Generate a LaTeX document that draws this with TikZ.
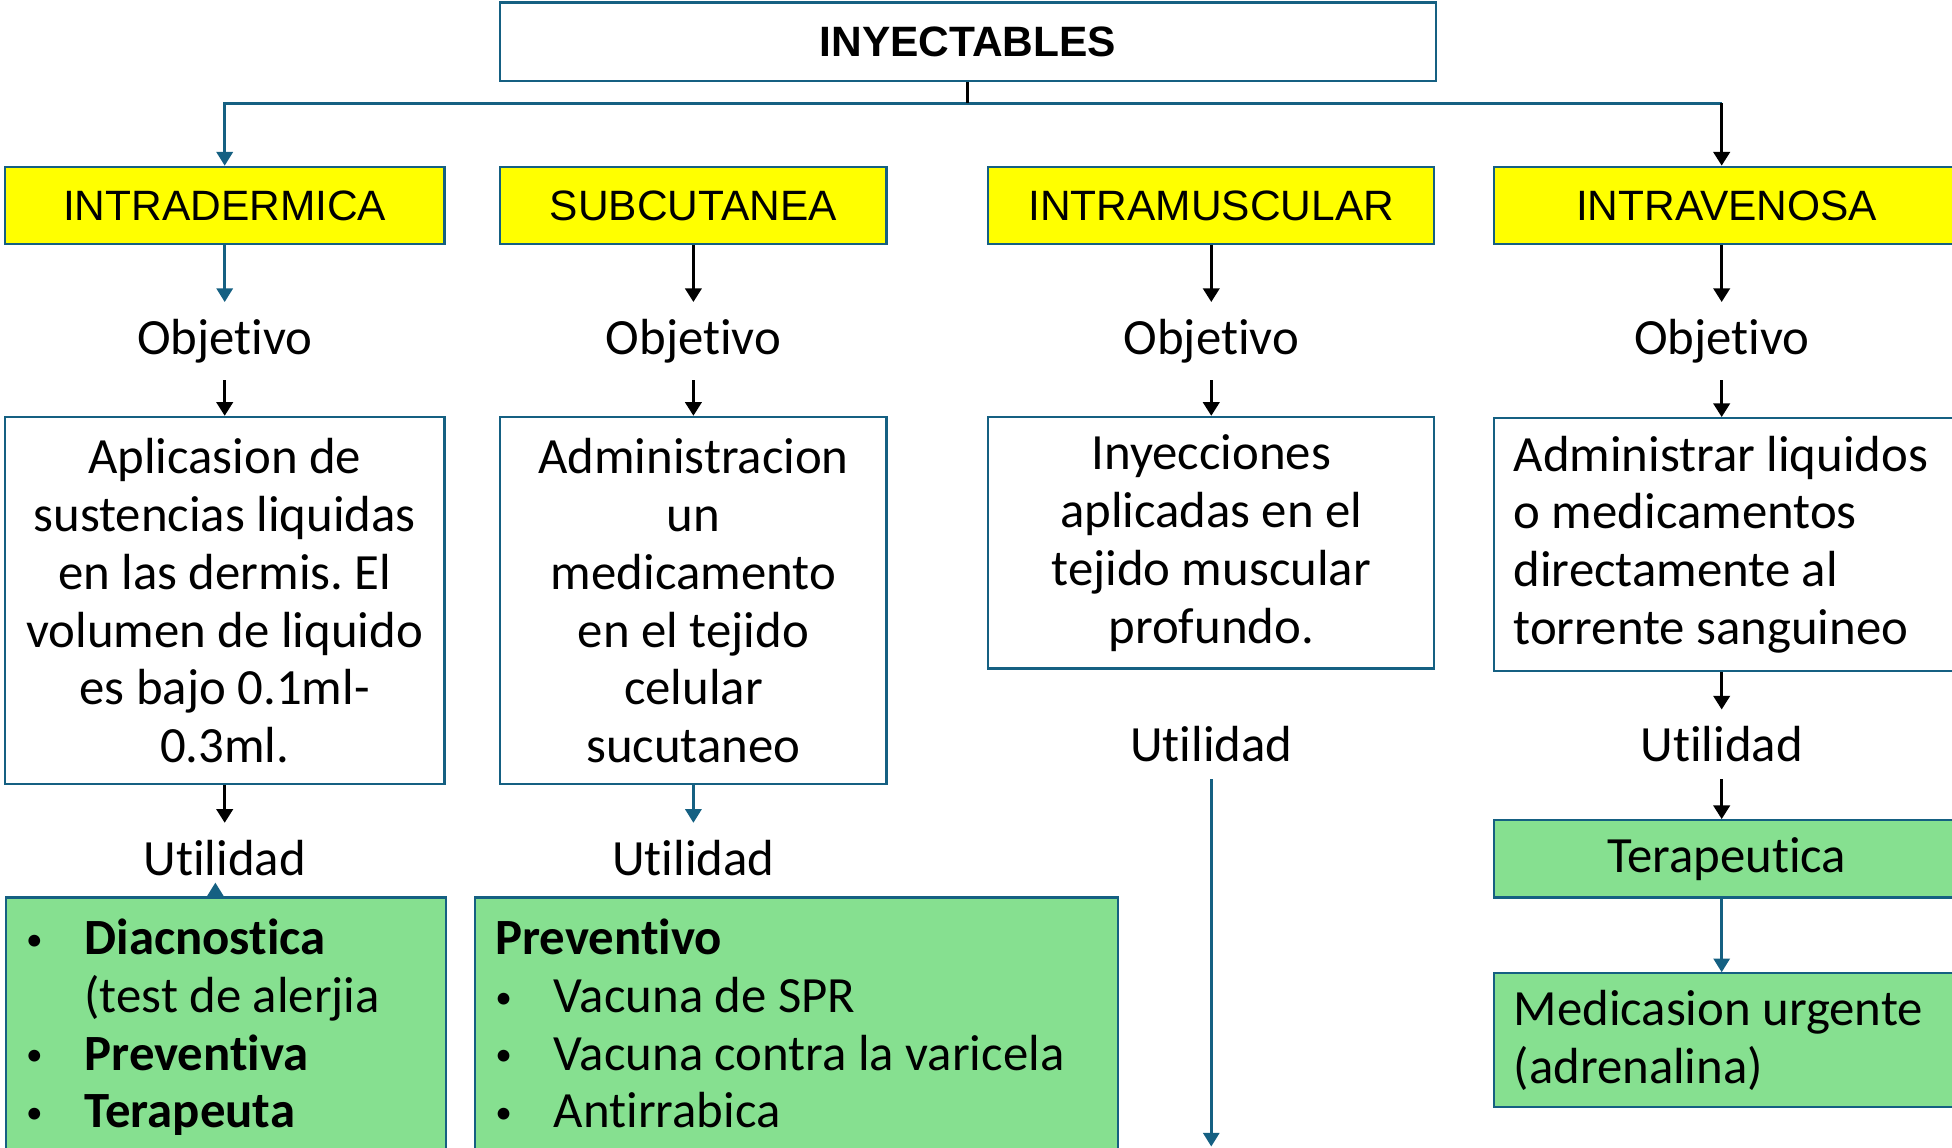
\documentclass[tikz,border=0pt]{standalone}
\usepackage{fontspec}
\setmainfont{Carlito}[Ligatures=CommonOff]
\newfontfamily\arialfont{Liberation Sans}
\usetikzlibrary{arrows.meta}
\frenchspacing

\definecolor{boxblue}{RGB}{21,96,130}
\definecolor{boxyellow}{RGB}{255,255,0}
\definecolor{boxgreen}{RGB}{134,224,144}
\newcommand{\itm}[1]{\makebox[0.47cm][l]{\raisebox{0.08em}{\fontsize{7.6}{8}\selectfont\textbullet}}#1}

\tikzset{
  bodytext/.style={font=\fontsize{11.6}{13.23}\selectfont},
  headbox/.style={draw=boxblue, line width=0.5pt, fill=boxyellow, minimum height=0.62cm, font=\arialfont\fontsize{9.7}{11}\selectfont},
  descbox/.style={draw=boxblue, line width=0.5pt, fill=white, bodytext, align=center},
  greenbox/.style={draw=boxblue, line width=0.5pt, fill=boxgreen, bodytext, inner xsep=0.16cm, inner ysep=0.17cm},
  stagetext/.style={bodytext, inner sep=0.13cm},
  bline/.style={draw=boxblue, line width=0.6pt},
  kline/.style={draw=black, line width=0.75pt}
}

\begin{document}
\begin{tikzpicture}[x=0.01cm, y=-0.01cm, >={Triangle[length=0.11cm,width=0.13cm]}]

    \useasboundingbox (0,0) rectangle (1568,922);
    \clip (0,0) rectangle (1568,922);

	% Title
	\node[draw=boxblue, line width=0.5pt, minimum width=7.51cm, minimum height=0.63cm, font=\arialfont\bfseries\fontsize{9.7}{11}\selectfont] (inyect) at (777.5,33.5) {INYECTABLES};

	% Routes
	\node[headbox, minimum width=3.53cm] (intra) at (180.5,165) {INTRADERMICA};
	\node[headbox, minimum width=3.10cm] (subcu) at (557,165) {SUBCUTANEA};
	\node[headbox, minimum width=3.58cm] (muscu) at (973,165) {INTRAMUSCULAR};
	\node[headbox, minimum width=3.74cm, anchor=west] (veno) at (1199,165) {INTRAVENOSA};

	% Objetivo
	\node[stagetext] (obj1) at (180.5,274) {Objetivo};
	\node[stagetext] (obj2) at (557,274) {Objetivo};
	\node[stagetext] (obj3) at (973,274) {Objetivo};
	\node[stagetext] (obj4) at (1383,274) {Objetivo};

	\node[descbox, minimum width=3.53cm, minimum height=2.95cm] (desc1) at (180.5,482.5) {Aplicasion de\\sustencias liquidas\\en las dermis. El\\volumen de liquido\\es bajo 0.1ml-\\0.3ml.};
	\node[descbox, minimum width=3.10cm, minimum height=2.95cm] (desc2) at (557,482.5) {Administracion\\un\\medicamento\\en el tejido\\celular\\sucutaneo};
	\node[descbox, minimum width=3.58cm, minimum height=2.02cm] (desc3) at (973,436) {Inyecciones\\aplicadas en el\\tejido muscular\\profundo.};
	\node[descbox, align=flush left, text width=3.42cm, inner xsep=0.16cm, minimum height=2.03cm, anchor=west] (desc4) at (1199,437.5) {Administrar liquidos\\o medicamentos\\directamente al\\torrente sanguineo};

	% Utilidad
	\node[stagetext] (util1) at (180.5,689) {Utilidad};
	\node[stagetext] (util2) at (557,689) {Utilidad};
	\node[stagetext] (util3) at (973,598) {Utilidad};
	\node[stagetext] (util4) at (1383,598) {Utilidad};

	\node[greenbox, anchor=north west] (use1) at (4,720) {\parbox[c][2.6cm][t]{3.21cm}{\raggedright
		\itm{\textbf{Diacnostica}}\\
		\hspace*{0.47cm}(test de alerjia\\
		\itm{\textbf{Preventiva}}\\
		\itm{\textbf{Terapeuta}}}};
	\node[greenbox, anchor=north west] (use2) at (381,720) {\parbox[c][2.6cm][t]{4.84cm}{\raggedright
		\textbf{Preventivo}\\
		\itm{Vacuna de SPR}\\
		\itm{Vacuna contra la varicela}\\
		\itm{Antirrabica}}};
	\node[greenbox, anchor=north west, inner ysep=0pt, minimum width=3.74cm, minimum height=0.62cm] (tera) at (1199,658) {Terapeutica};
	\node[greenbox, anchor=north west, inner ysep=0.04cm, align=flush left, text width=3.42cm, minimum height=1.07cm] (medic) at (1199,781) {Medicasion urgente\\(adrenalina)};

	% Branches
	\coordinate (bus) at (777,83);
	\coordinate (busR) at (1383,83);
	\draw[bline, ->] (bus) -| (intra.north);
	\draw[bline] (bus) -- (busR);
	\draw[kline] (inyect.south -| bus) -- (bus);
	\draw[kline, ->] (busR) -- (busR |- veno.north);

	% intradermica
	\draw[bline, ->] (intra) -- (obj1);
	\draw[kline, ->] (obj1) -- (desc1);
	\draw[kline, ->] (desc1) -- (util1);
	\coordinate (tip1) at (173,709);
	\draw[bline, ->] (use1.north -| tip1) -- (tip1);
	% subcutanea
	\draw[kline, ->] (subcu) -- (obj2);
	\draw[kline, ->] (obj2) -- (desc2);
	\draw[bline, ->] (desc2) -- (util2);
	% intramuscular
	\draw[kline, ->] (muscu) -- (obj3);
	\draw[kline, ->] (obj3) -- (desc3);
	\coordinate (down3) at (973,921);
	\draw[bline, ->] (util3) -- (down3);
	% intravenosa
	\draw[kline, ->] (veno.south -| obj4) -- (obj4);
	\draw[kline, ->] (obj4) -- (obj4 |- desc4.north);
	\draw[kline, ->] (desc4.south -| util4) -- (util4);
	\draw[kline, ->] (util4) -- (util4 |- tera.north);
	\draw[bline, ->] (tera.south -| util4) -- (util4 |- medic.north);

\end{tikzpicture}
\end{document}
